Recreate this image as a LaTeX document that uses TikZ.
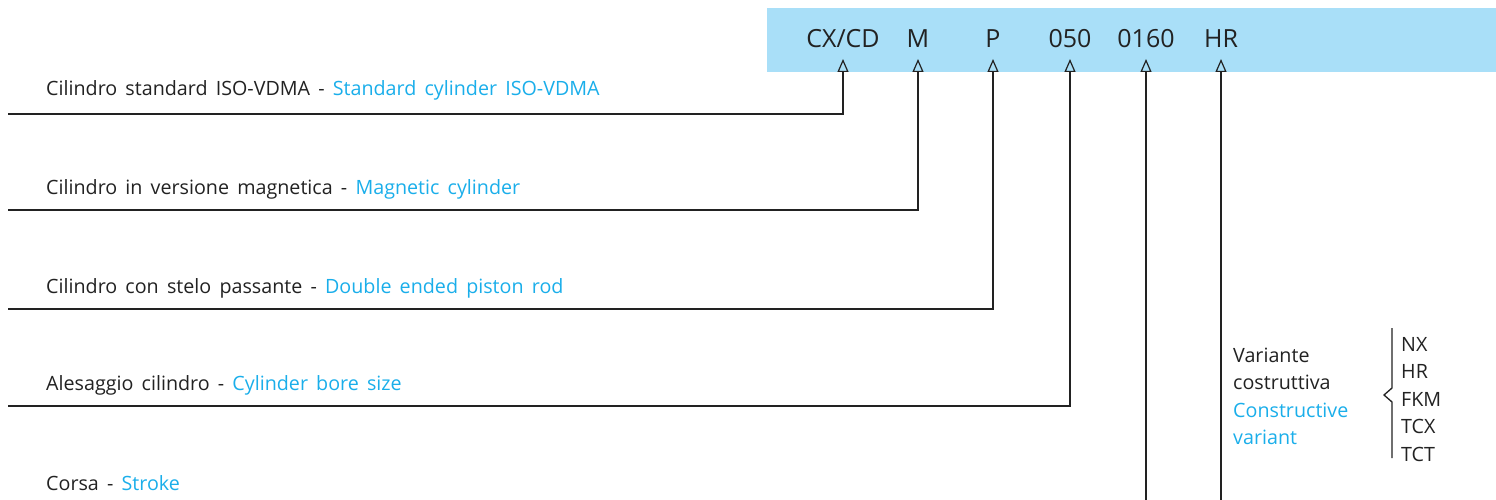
\documentclass[tikz,border=0pt]{standalone}
\usepackage{fontspec}
\setmainfont{Open Sans}[WordSpace=1.6]
\usetikzlibrary{arrows.meta}
\definecolor{boxblue}{HTML}{A9DFF8}
\definecolor{txtblue}{HTML}{1AAEEA}
\definecolor{txtdark}{HTML}{222222}
\tikzset{
  code/.style={anchor=base,text=txtdark,font=\fontsize{25}{25}\selectfont,inner sep=0pt},
  lbl/.style={anchor=base west,text=txtdark,font=\fontsize{19.7}{19.7}\selectfont,inner sep=0pt},
  conn/.style={draw=txtdark,line width=1.3pt,-{Triangle[open,length=13pt,width=11pt,line width=1.2pt]}},
  en/.style={text=txtblue}
}
\begin{document}
\begin{tikzpicture}[x=1pt,y=-1pt]
\useasboundingbox (0,0) rectangle (1496,500);
\fill[boxblue] (767,8) rectangle (1496,72);
\node[code] (c1) at (843,48) {CX/CD};
\node[code] (c2) at (918,48) {M};
\node[code] (c3) at (993,48) {P};
\node[code] (c4) at (1070,48) {050};
\node[code] (c5) at (1146,48) {0160};
\node[code] (c6) at (1221,48) {HR};
\foreach \i/\x in {1/843,2/918,3/993,4/1070,5/1146,6/1221}{
  \coordinate (a\i) at (\x,59);
}
\coordinate (e1) at (8,114);
\coordinate (e2) at (8,210);
\coordinate (e3) at (8,309);
\coordinate (e4) at (8,406);
\coordinate (e5) at (1146,500);
\coordinate (e6) at (1221,500);
\draw[conn] (e1) -| (a1);
\draw[conn] (e2) -| (a2);
\draw[conn] (e3) -| (a3);
\draw[conn] (e4) -| (a4);
\draw[conn] (e5) -- (a5);
\draw[conn] (e6) -- (a6);
\node[lbl] (l1) at (46,96) {Cilindro standard ISO-VDMA - {\color{txtblue}Standard cylinder ISO-VDMA}};
\node[lbl] (l2) at (46,194) {Cilindro in versione magnetica - {\color{txtblue}Magnetic cylinder}};
\node[lbl] (l3) at (46,293) {Cilindro con stelo passante - {\color{txtblue}Double ended piston rod}};
\node[lbl] (l4) at (46,390) {Alesaggio cilindro - {\color{txtblue}Cylinder bore size}};
\node[lbl] (l5) at (46,490) {Corsa - {\color{txtblue}Stroke}};
\node[lbl] (v1) at (1233,362) {Variante};
\node[lbl] (v2) at (1233,389.5) {costruttiva};
\node[lbl,text=txtblue] (v3) at (1233,417) {Constructive};
\node[lbl,text=txtblue] (v4) at (1233,444.5) {variant};
\draw[draw=txtdark,line width=1.3pt] (1392,328)--(1392,388)--(1384,395)--(1392,402)--(1392,458);
\node[lbl] (o1) at (1401,351) {NX};
\node[lbl] (o2) at (1401,378.5) {HR};
\node[lbl] (o3) at (1401,406) {FKM};
\node[lbl] (o4) at (1401,433.5) {TCX};
\node[lbl] (o5) at (1401,461) {TCT};
\end{tikzpicture}
\end{document}
